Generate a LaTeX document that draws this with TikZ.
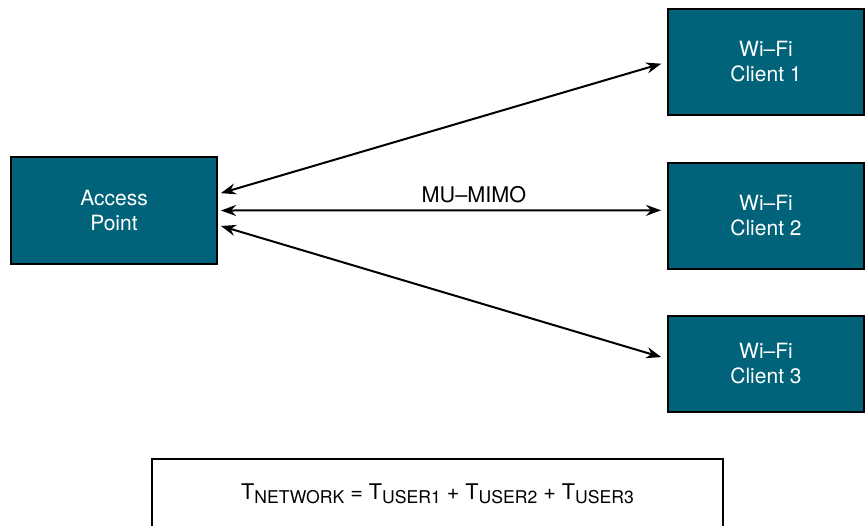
\documentclass[tikz,border=0pt]{standalone}
\usepackage{fontspec}
\setmainfont{TeX Gyre Heros}
\usetikzlibrary{arrows.meta}
\definecolor{mimo_teal}{RGB}{0, 99, 122}
\tikzstyle{devbox}=[rectangle,fill=mimo_teal,draw=black,line width=1pt,
  text=white,align=center,font=\fontsize{10.5}{12.5}\selectfont]
\tikzstyle{apbox}=[devbox,minimum width=103pt,minimum height=53.5pt]
\tikzstyle{clbox}=[devbox,minimum width=98pt,minimum height=53pt]
\tikzstyle{link}=[line width=1pt,{Stealth[length=7.5pt,width=5.5pt]}-{Stealth[length=7.5pt,width=5.5pt]},
  shorten <=1.5pt,shorten >=3pt]
\newcommand{\usub}[1]{\raisebox{-0.35ex}{\fontsize{8.8}{9}\selectfont #1}}

\begin{document}
\begin{tikzpicture}[x=0.5pt,y=-0.5pt]
        \useasboundingbox (0, 0) rectangle (865, 525);
        \clip (0, 0) rectangle (865, 525);
        \node [style=apbox] (ap) at (114, 210.5) {Access\\Point};
        \node [style=clbox] (c1) at (766, 62) {Wi--Fi\\Client 1};
        \node [style=clbox] (c2) at (766, 215.5) {Wi--Fi\\Client 2};
        \node [style=clbox, minimum height=48pt] (c3) at (766, 364) {Wi--Fi\\Client 3};
        \node [draw=black, line width=1pt, minimum width=285.5pt, minimum height=35pt,
          font=\fontsize{10.8}{12}\selectfont] (sum) at (437.5, 494)
          {T\usub{NETWORK} = T\usub{USER1} + T\usub{USER2} + T\usub{USER3}};
        \draw [style=link] (ap.9) to (c1.west);
        \draw [style=link] (ap.east) to node [above, font=\fontsize{10.8}{12}\selectfont, pos=0.57] (lbl) {MU--MIMO} (c2.177);
        \draw [style=link] (ap.-8) to (c3.177);
    \end{tikzpicture}
\end{document}
